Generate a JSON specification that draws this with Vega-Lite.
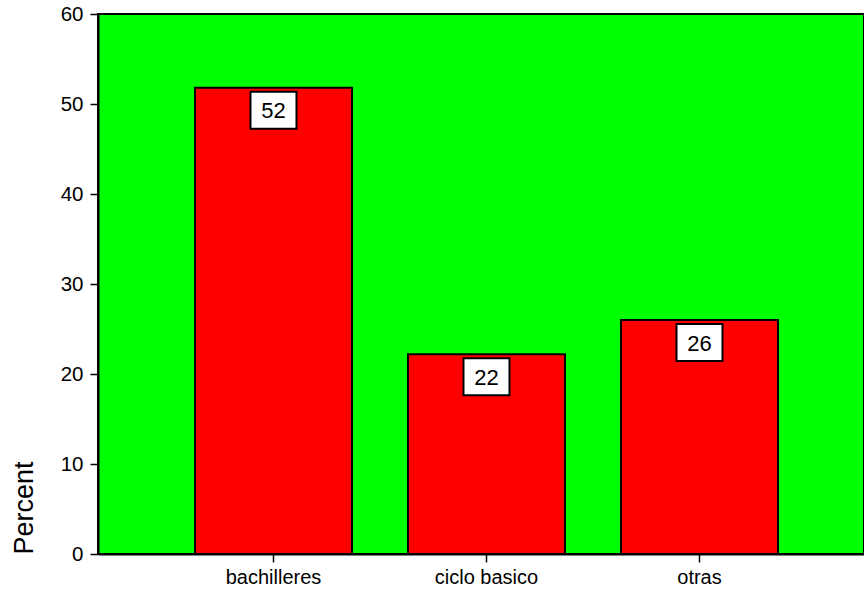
{
  "$schema": "https://vega.github.io/schema/vega-lite/v6.json",
  "width": 766,
  "height": 540,
  "autosize": {"type": "none"},
  "padding": {"left": 98, "top": 14, "right": 0, "bottom": 36},
  "background": "white",
  "config": {
    "font": "Liberation Sans",
    "view": {"fill": "#00ff00", "stroke": "black", "strokeWidth": 2}
  },
  "data": {
    "values": [
      {"category": "bachilleres", "percent": 51.8, "label": "52"},
      {"category": "ciclo basico", "percent": 22.2, "label": "22"},
      {"category": "otras", "percent": 26.0, "label": "26"}
    ]
  },
  "encoding": {
    "x": {
      "field": "category",
      "type": "nominal",
      "sort": null,
      "scale": {"paddingInner": 0.263, "paddingOuter": 0.4296, "align": 0.53},
      "axis": {
        "title": null,
        "labelAngle": 0,
        "labelFontSize": 20,
        "labelColor": "black",
        "labelPadding": 5,
        "tickColor": "black",
        "tickSize": 8,
        "tickWidth": 1.5,
        "domainColor": "black",
        "domainWidth": 2
      }
    },
    "y": {
      "field": "percent",
      "type": "quantitative",
      "scale": {"domain": [0, 60], "nice": false},
      "axis": {
        "title": "Percent",
        "titleFontSize": 27,
        "titleFontWeight": "normal",
        "titleColor": "black",
        "titleAnchor": "start",
        "titlePadding": 22,
        "values": [0, 10, 20, 30, 40, 50, 60],
        "grid": false,
        "labelFontSize": 20.5,
        "labelColor": "black",
        "labelPadding": 7,
        "tickColor": "black",
        "tickSize": 8,
        "tickWidth": 1.5,
        "domainColor": "black",
        "domainWidth": 2
      }
    }
  },
  "layer": [
    {
      "mark": {"type": "bar", "fill": "#ff0000", "stroke": "black", "strokeWidth": 2}
    },
    {
      "mark": {
        "type": "point",
        "shape": "M-1.243,-1L1.243,-1L1.243,1L-1.243,1Z",
        "size": 1369,
        "filled": true,
        "fill": "white",
        "stroke": "black",
        "strokeWidth": 2,
        "opacity": 1,
        "yOffset": 22.5
      }
    },
    {
      "mark": {
        "type": "text",
        "fontSize": 22,
        "color": "black",
        "baseline": "middle",
        "yOffset": 23.5
      },
      "encoding": {"text": {"field": "label"}}
    }
  ]
}
